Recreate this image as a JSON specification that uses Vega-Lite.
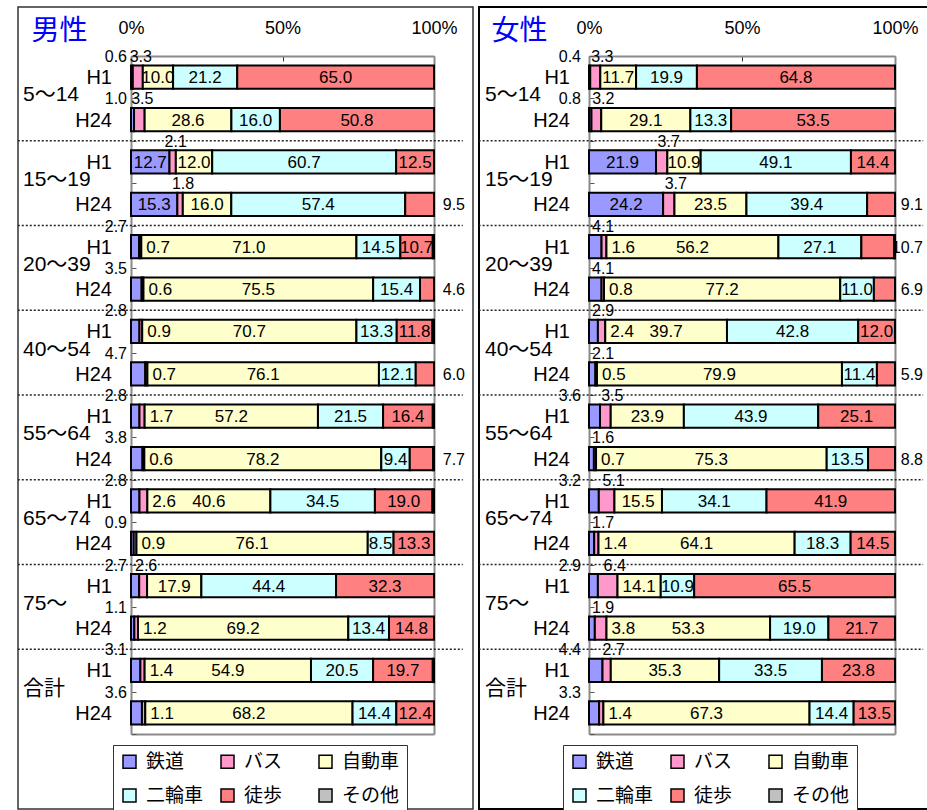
{
  "$schema": "https://vega.github.io/schema/vega-lite/v6.json",
  "background": "white",
  "padding": {"left": 17, "top": 6, "right": 0, "bottom": 0},
  "spacing": 4,
  "config": {
    "font": "Liberation Sans",
    "axis": {"grid": false},
    "text": {"font": "Liberation Sans", "color": "black"}
  },
  "datasets": {
    "male": [
      {"age": "5～14", "year": "H1", "鉄道": 0.6, "バス": 3.3, "自動車": 10.0, "二輪車": 21.2, "徒歩": 65.0, "その他": 0},
      {"age": "5～14", "year": "H24", "鉄道": 1.0, "バス": 3.5, "自動車": 28.6, "二輪車": 16.0, "徒歩": 50.8, "その他": 0},
      {"age": "15～19", "year": "H1", "鉄道": 12.7, "バス": 2.1, "自動車": 12.0, "二輪車": 60.7, "徒歩": 12.5, "その他": 0},
      {"age": "15～19", "year": "H24", "鉄道": 15.3, "バス": 1.8, "自動車": 16.0, "二輪車": 57.4, "徒歩": 9.5, "その他": 0},
      {"age": "20～39", "year": "H1", "鉄道": 2.7, "バス": 0.7, "自動車": 71.0, "二輪車": 14.5, "徒歩": 10.7, "その他": 0.4},
      {"age": "20～39", "year": "H24", "鉄道": 3.5, "バス": 0.6, "自動車": 75.5, "二輪車": 15.4, "徒歩": 4.6, "その他": 0},
      {"age": "40～54", "year": "H1", "鉄道": 2.8, "バス": 0.9, "自動車": 70.7, "二輪車": 13.3, "徒歩": 11.8, "その他": 0.5},
      {"age": "40～54", "year": "H24", "鉄道": 4.7, "バス": 0.7, "自動車": 76.1, "二輪車": 12.1, "徒歩": 6.0, "その他": 0},
      {"age": "55～64", "year": "H1", "鉄道": 2.8, "バス": 1.7, "自動車": 57.2, "二輪車": 21.5, "徒歩": 16.4, "その他": 0.4},
      {"age": "55～64", "year": "H24", "鉄道": 3.8, "バス": 0.6, "自動車": 78.2, "二輪車": 9.4, "徒歩": 7.7, "その他": 0.3},
      {"age": "65～74", "year": "H1", "鉄道": 2.8, "バス": 2.6, "自動車": 40.6, "二輪車": 34.5, "徒歩": 19.0, "その他": 0.5},
      {"age": "65～74", "year": "H24", "鉄道": 0.9, "バス": 0.9, "自動車": 76.1, "二輪車": 8.5, "徒歩": 13.3, "その他": 0},
      {"age": "75～", "year": "H1", "鉄道": 2.7, "バス": 2.6, "自動車": 17.9, "二輪車": 44.4, "徒歩": 32.3, "その他": 0},
      {"age": "75～", "year": "H24", "鉄道": 1.1, "バス": 1.2, "自動車": 69.2, "二輪車": 13.4, "徒歩": 14.8, "その他": 0},
      {"age": "合計", "year": "H1", "鉄道": 3.1, "バス": 1.4, "自動車": 54.9, "二輪車": 20.5, "徒歩": 19.7, "その他": 0.4},
      {"age": "合計", "year": "H24", "鉄道": 3.6, "バス": 1.1, "自動車": 68.2, "二輪車": 14.4, "徒歩": 12.4, "その他": 0}
    ],
    "female": [
      {"age": "5～14", "year": "H1", "鉄道": 0.4, "バス": 3.3, "自動車": 11.7, "二輪車": 19.9, "徒歩": 64.8, "その他": 0},
      {"age": "5～14", "year": "H24", "鉄道": 0.8, "バス": 3.2, "自動車": 29.1, "二輪車": 13.3, "徒歩": 53.5, "その他": 0},
      {"age": "15～19", "year": "H1", "鉄道": 21.9, "バス": 3.7, "自動車": 10.9, "二輪車": 49.1, "徒歩": 14.4, "その他": 0},
      {"age": "15～19", "year": "H24", "鉄道": 24.2, "バス": 3.7, "自動車": 23.5, "二輪車": 39.4, "徒歩": 9.1, "その他": 0},
      {"age": "20～39", "year": "H1", "鉄道": 4.1, "バス": 1.6, "自動車": 56.2, "二輪車": 27.1, "徒歩": 10.7, "その他": 0.3},
      {"age": "20～39", "year": "H24", "鉄道": 4.1, "バス": 0.8, "自動車": 77.2, "二輪車": 11.0, "徒歩": 6.9, "その他": 0},
      {"age": "40～54", "year": "H1", "鉄道": 2.9, "バス": 2.4, "自動車": 39.7, "二輪車": 42.8, "徒歩": 12.0, "その他": 0},
      {"age": "40～54", "year": "H24", "鉄道": 2.1, "バス": 0.5, "自動車": 79.9, "二輪車": 11.4, "徒歩": 5.9, "その他": 0},
      {"age": "55～64", "year": "H1", "鉄道": 3.6, "バス": 3.5, "自動車": 23.9, "二輪車": 43.9, "徒歩": 25.1, "その他": 0},
      {"age": "55～64", "year": "H24", "鉄道": 1.6, "バス": 0.7, "自動車": 75.3, "二輪車": 13.5, "徒歩": 8.8, "その他": 0},
      {"age": "65～74", "year": "H1", "鉄道": 3.2, "バス": 5.1, "自動車": 15.5, "二輪車": 34.1, "徒歩": 41.9, "その他": 0},
      {"age": "65～74", "year": "H24", "鉄道": 1.7, "バス": 1.4, "自動車": 64.1, "二輪車": 18.3, "徒歩": 14.5, "その他": 0},
      {"age": "75～", "year": "H1", "鉄道": 2.9, "バス": 6.4, "自動車": 14.1, "二輪車": 10.9, "徒歩": 65.5, "その他": 0},
      {"age": "75～", "year": "H24", "鉄道": 1.9, "バス": 3.8, "自動車": 53.3, "二輪車": 19.0, "徒歩": 21.7, "その他": 0},
      {"age": "合計", "year": "H1", "鉄道": 4.4, "バス": 2.7, "自動車": 35.3, "二輪車": 33.5, "徒歩": 23.8, "その他": 0},
      {"age": "合計", "year": "H24", "鉄道": 3.3, "バス": 1.4, "自動車": 67.3, "二輪車": 14.4, "徒歩": 13.5, "その他": 0}
    ]
  },
  "hconcat": [
    {
      "width": 455,
      "height": 802,
      "view": {"stroke": "#333333", "strokeWidth": 1.5},
      "data": {"name": "male"},
      "transform": [
        {"calculate": "datum.age + ' ' + datum.year", "as": "row"},
        {"calculate": "datum.age == '5～14' || datum.age == '15～19' || (datum.year == 'H1' && datum['バス'] >= 2.5 && datum['自動車'] < 40)", "as": "busUp"},
        {"calculate": "false", "as": "railIn"},
        {"fold": ["鉄道", "バス", "自動車", "二輪車", "徒歩", "その他"], "as": ["mode", "v"]},
        {"filter": "datum.v > 0"},
        {"calculate": "indexof(['鉄道', 'バス', '自動車', '二輪車', '徒歩', 'その他'], datum.mode)", "as": "ord"},
        {"stack": "v", "groupby": ["row"], "sort": [{"field": "ord", "order": "ascending"}], "offset": "normalize", "as": ["x0", "x1"]},
        {"calculate": "(datum.x0 + datum.x1) / 2", "as": "xm"}
      ],
      "resolve": {"axis": {"x": "independent", "y": "independent"}},
      "layer": [
        {
          "transform": [{"filter": "datum.mode == '鉄道' && datum.year == 'H24' && datum.age != '合計'"}],
          "mark": {"type": "rule", "strokeDash": [2, 2], "strokeWidth": 1.5, "color": "#222222", "clip": true},
          "encoding": {
            "x": {"datum": -0.4, "scale": {"domain": [0, 1], "range": [113, 416], "nice": false, "zero": false}, "axis": null},
            "x2": {"datum": 1.095},
            "y": {"field": "row", "type": "nominal", "bandPosition": 1, "scale": {"type": "band", "domain": ["5～14 H1", "5～14 H24", "15～19 H1", "15～19 H24", "20～39 H1", "20～39 H24", "40～54 H1", "40～54 H24", "55～64 H1", "55～64 H24", "65～74 H1", "65～74 H24", "75～ H1", "75～ H24", "合計 H1", "合計 H24"], "range": [49, 727], "paddingInner": 0, "paddingOuter": 0}, "axis": null}
          }
        },
        {
          "transform": [{"filter": "datum.mode == '鉄道' && datum.v < 10 && !datum.railIn"}],
          "mark": {"type": "text", "align": "right", "baseline": "middle", "dx": -4, "dy": 1, "fontSize": 16},
          "encoding": {
            "x": {"datum": 0, "axis": null},
            "y": {"field": "row", "type": "nominal", "bandPosition": 0, "axis": null},
            "text": {"field": "v", "type": "quantitative", "format": ".1f"}
          }
        },
        {
          "transform": [{"filter": "datum.mode == 'バス' && datum.busUp"}],
          "mark": {"type": "text", "align": "center", "baseline": "middle", "dx": 3, "dy": 1, "fontSize": 16},
          "encoding": {
            "x": {"field": "xm", "type": "quantitative", "axis": null},
            "y": {"field": "row", "type": "nominal", "bandPosition": 0, "axis": null},
            "text": {"field": "v", "type": "quantitative", "format": ".1f"}
          }
        },
        {
          "mark": {"type": "bar", "height": {"band": 0.55}, "stroke": "black", "strokeWidth": 2},
          "encoding": {
            "x": {"field": "x0", "type": "quantitative", "axis": {"orient": "top", "offset": -49, "values": [0, 0.5, 1], "format": ".0%", "title": null, "domainColor": "#8a8a8a", "domainWidth": 2, "tickColor": "#333333", "tickSize": -5, "labelFontSize": 18, "labelColor": "black", "labelPadding": 24, "labelFlush": false, "labelFont": "Liberation Sans"}},
            "x2": {"field": "x1"},
            "y": {"field": "row", "type": "nominal", "axis": {"orient": "left", "offset": -113, "labels": false, "domainColor": "#8a8a8a", "domainWidth": 2, "tickBand": "extent", "tickSize": -5, "tickColor": "#555555", "title": "男性", "titleAngle": 0, "titleX": -100, "titleY": 24, "titleAlign": "left", "titleBaseline": "middle", "titleColor": "#0000FF", "titleFont": "Noto Sans CJK JP", "titleFontSize": 28, "titleFontWeight": "normal"}},
            "color": {
              "field": "mode", "type": "nominal",
              "scale": {"domain": ["鉄道", "バス", "自動車", "二輪車", "徒歩", "その他"], "range": ["#9999FF", "#FF99CC", "#FFFFCC", "#CCFFFF", "#FF8080", "#C0C0C0"]},
              "legend": {"orient": "none", "legendX": 95, "legendY": 738, "direction": "horizontal", "columns": 3, "title": null, "symbolType": "square", "symbolSize": 169, "symbolStrokeColor": "black", "symbolStrokeWidth": 1.5, "labelFontSize": 19, "labelFont": "Noto Sans CJK JP", "labelColor": "black", "labelOffset": 7, "columnPadding": 14, "rowPadding": 14, "gridAlign": "all", "padding": 7, "strokeColor": "#333333", "fillColor": "white"}
            }
          }
        },
        {
          "transform": [{"filter": "(datum.mode == '鉄道' && datum.v >= 10) || datum.mode == '自動車' || datum.mode == '二輪車' || (datum.mode == '徒歩' && datum.v >= 10)"}],
          "mark": {"type": "text", "align": "center", "baseline": "middle", "dy": 1, "fontSize": 17},
          "encoding": {
            "x": {"field": "xm", "type": "quantitative", "axis": {"orient": "bottom", "offset": -75, "labels": false, "ticks": false, "title": null, "domainColor": "#8a8a8a", "domainWidth": 2}},
            "y": {"field": "row", "type": "nominal", "axis": {"orient": "right", "offset": -39, "labels": false, "ticks": false, "title": null, "domainColor": "#8a8a8a", "domainWidth": 2}},
            "text": {"field": "v", "type": "quantitative", "format": ".1f"}
          }
        },
        {
          "transform": [{"filter": "datum.mode == 'バス' && !datum.busUp"}],
          "mark": {"type": "text", "align": "left", "baseline": "middle", "dx": 5, "dy": 1, "fontSize": 17},
          "encoding": {
            "x": {"field": "x1", "type": "quantitative", "axis": null},
            "y": {"field": "row", "type": "nominal", "axis": null},
            "text": {"field": "v", "type": "quantitative", "format": ".1f"}
          }
        },
        {
          "transform": [{"filter": "datum.mode == '徒歩' && datum.v < 10"}],
          "mark": {"type": "text", "align": "right", "baseline": "middle", "dx": 31, "dy": 1, "fontSize": 16},
          "encoding": {
            "x": {"datum": 1, "axis": null},
            "y": {"field": "row", "type": "nominal", "axis": null},
            "text": {"field": "v", "type": "quantitative", "format": ".1f"}
          }
        },
        {
          "transform": [{"filter": "datum.mode == '鉄道'"}],
          "mark": {"type": "text", "align": "right", "baseline": "middle", "dx": -19, "dy": 1, "fontSize": 20},
          "encoding": {
            "x": {"datum": 0, "axis": null},
            "y": {"field": "row", "type": "nominal", "axis": null},
            "text": {"field": "year", "type": "nominal"}
          }
        },
        {
          "transform": [{"filter": "datum.mode == '鉄道' && datum.year == 'H24'"}],
          "mark": {"type": "text", "align": "left", "baseline": "middle", "dx": -108, "dy": -3, "fontSize": 21, "font": "Liberation Sans, Noto Sans CJK JP"},
          "encoding": {
            "x": {"datum": 0, "axis": null},
            "y": {"field": "row", "type": "nominal", "bandPosition": 0, "axis": null},
            "text": {"field": "age", "type": "nominal"}
          }
        }
      ]
    },
    {
      "width": 450,
      "height": 802,
      "view": {"stroke": "black", "strokeWidth": 2},
      "data": {"name": "female"},
      "transform": [
        {"calculate": "datum.age + ' ' + datum.year", "as": "row"},
        {"calculate": "datum.age == '5～14' || datum.age == '15～19' || (datum.year == 'H1' && datum['バス'] >= 2.5 && datum['自動車'] < 40)", "as": "busUp"},
        {"calculate": "!datum.busUp && datum.age != '合計'", "as": "railIn"},
        {"fold": ["鉄道", "バス", "自動車", "二輪車", "徒歩", "その他"], "as": ["mode", "v"]},
        {"filter": "datum.v > 0"},
        {"calculate": "indexof(['鉄道', 'バス', '自動車', '二輪車', '徒歩', 'その他'], datum.mode)", "as": "ord"},
        {"stack": "v", "groupby": ["row"], "sort": [{"field": "ord", "order": "ascending"}], "offset": "normalize", "as": ["x0", "x1"]},
        {"calculate": "(datum.x0 + datum.x1) / 2", "as": "xm"}
      ],
      "resolve": {"axis": {"x": "independent", "y": "independent"}},
      "layer": [
        {
          "transform": [{"filter": "datum.mode == '鉄道' && datum.year == 'H24' && datum.age != '合計'"}],
          "mark": {"type": "rule", "strokeDash": [2, 2], "strokeWidth": 1.5, "color": "#222222", "clip": true},
          "encoding": {
            "x": {"datum": -0.4, "scale": {"domain": [0, 1], "range": [110, 416], "nice": false, "zero": false}, "axis": null},
            "x2": {"datum": 1.092},
            "y": {"field": "row", "type": "nominal", "bandPosition": 1, "scale": {"type": "band", "domain": ["5～14 H1", "5～14 H24", "15～19 H1", "15～19 H24", "20～39 H1", "20～39 H24", "40～54 H1", "40～54 H24", "55～64 H1", "55～64 H24", "65～74 H1", "65～74 H24", "75～ H1", "75～ H24", "合計 H1", "合計 H24"], "range": [49, 727], "paddingInner": 0, "paddingOuter": 0}, "axis": null}
          }
        },
        {
          "transform": [{"filter": "datum.mode == '鉄道' && datum.v < 10 && !datum.railIn"}],
          "mark": {"type": "text", "align": "right", "baseline": "middle", "dx": -8, "dy": 1, "fontSize": 16},
          "encoding": {
            "x": {"datum": 0, "axis": null},
            "y": {"field": "row", "type": "nominal", "bandPosition": 0, "axis": null},
            "text": {"field": "v", "type": "quantitative", "format": ".1f"}
          }
        },
        {
          "transform": [{"filter": "datum.mode == '鉄道' && datum.v < 10 && datum.railIn"}],
          "mark": {"type": "text", "align": "left", "baseline": "middle", "dx": 3, "dy": 1, "fontSize": 16},
          "encoding": {
            "x": {"datum": 0, "axis": null},
            "y": {"field": "row", "type": "nominal", "bandPosition": 0, "axis": null},
            "text": {"field": "v", "type": "quantitative", "format": ".1f"}
          }
        },
        {
          "transform": [{"filter": "datum.mode == 'バス' && datum.busUp"}],
          "mark": {"type": "text", "align": "center", "baseline": "middle", "dx": 7, "dy": 1, "fontSize": 16},
          "encoding": {
            "x": {"field": "xm", "type": "quantitative", "axis": null},
            "y": {"field": "row", "type": "nominal", "bandPosition": 0, "axis": null},
            "text": {"field": "v", "type": "quantitative", "format": ".1f"}
          }
        },
        {
          "mark": {"type": "bar", "height": {"band": 0.55}, "stroke": "black", "strokeWidth": 2},
          "encoding": {
            "x": {"field": "x0", "type": "quantitative", "axis": {"orient": "top", "offset": -49, "values": [0, 0.5, 1], "format": ".0%", "title": null, "domainColor": "#8a8a8a", "domainWidth": 2, "tickColor": "#333333", "tickSize": -5, "labelFontSize": 18, "labelColor": "black", "labelPadding": 24, "labelFlush": false, "labelFont": "Liberation Sans"}},
            "x2": {"field": "x1"},
            "y": {"field": "row", "type": "nominal", "axis": {"orient": "left", "offset": -110, "labels": false, "domainColor": "#8a8a8a", "domainWidth": 2, "tickBand": "extent", "tickSize": -5, "tickColor": "#555555", "title": "女性", "titleAngle": 0, "titleX": -98, "titleY": 24, "titleAlign": "left", "titleBaseline": "middle", "titleColor": "#0000FF", "titleFont": "Noto Sans CJK JP", "titleFontSize": 28, "titleFontWeight": "normal"}},
            "color": {
              "field": "mode", "type": "nominal",
              "scale": {"domain": ["鉄道", "バス", "自動車", "二輪車", "徒歩", "その他"], "range": ["#9999FF", "#FF99CC", "#FFFFCC", "#CCFFFF", "#FF8080", "#C0C0C0"]},
              "legend": {"orient": "none", "legendX": 84, "legendY": 738, "direction": "horizontal", "columns": 3, "title": null, "symbolType": "square", "symbolSize": 169, "symbolStrokeColor": "black", "symbolStrokeWidth": 1.5, "labelFontSize": 19, "labelFont": "Noto Sans CJK JP", "labelColor": "black", "labelOffset": 7, "columnPadding": 14, "rowPadding": 14, "gridAlign": "all", "padding": 7, "strokeColor": "#333333", "fillColor": "white"}
            }
          }
        },
        {
          "transform": [{"filter": "(datum.mode == '鉄道' && datum.v >= 10) || datum.mode == '自動車' || datum.mode == '二輪車' || (datum.mode == '徒歩' && datum.v >= 11)"}],
          "mark": {"type": "text", "align": "center", "baseline": "middle", "dy": 1, "fontSize": 17},
          "encoding": {
            "x": {"field": "xm", "type": "quantitative", "axis": {"orient": "bottom", "offset": -75, "labels": false, "ticks": false, "title": null, "domainColor": "#8a8a8a", "domainWidth": 2}},
            "y": {"field": "row", "type": "nominal", "axis": {"orient": "right", "offset": -34, "labels": false, "ticks": false, "title": null, "domainColor": "#8a8a8a", "domainWidth": 2}},
            "text": {"field": "v", "type": "quantitative", "format": ".1f"}
          }
        },
        {
          "transform": [{"filter": "datum.mode == 'バス' && !datum.busUp"}],
          "mark": {"type": "text", "align": "left", "baseline": "middle", "dx": 5, "dy": 1, "fontSize": 17},
          "encoding": {
            "x": {"field": "x1", "type": "quantitative", "axis": null},
            "y": {"field": "row", "type": "nominal", "axis": null},
            "text": {"field": "v", "type": "quantitative", "format": ".1f"}
          }
        },
        {
          "transform": [{"filter": "datum.mode == '徒歩' && datum.v < 11"}],
          "mark": {"type": "text", "align": "right", "baseline": "middle", "dx": 28, "dy": 1, "fontSize": 16},
          "encoding": {
            "x": {"datum": 1, "axis": null},
            "y": {"field": "row", "type": "nominal", "axis": null},
            "text": {"field": "v", "type": "quantitative", "format": ".1f"}
          }
        },
        {
          "transform": [{"filter": "datum.mode == '鉄道'"}],
          "mark": {"type": "text", "align": "right", "baseline": "middle", "dx": -19, "dy": 1, "fontSize": 20},
          "encoding": {
            "x": {"datum": 0, "axis": null},
            "y": {"field": "row", "type": "nominal", "axis": null},
            "text": {"field": "year", "type": "nominal"}
          }
        },
        {
          "transform": [{"filter": "datum.mode == '鉄道' && datum.year == 'H24'"}],
          "mark": {"type": "text", "align": "left", "baseline": "middle", "dx": -104, "dy": -3, "fontSize": 21, "font": "Liberation Sans, Noto Sans CJK JP"},
          "encoding": {
            "x": {"datum": 0, "axis": null},
            "y": {"field": "row", "type": "nominal", "bandPosition": 0, "axis": null},
            "text": {"field": "age", "type": "nominal"}
          }
        }
      ]
    }
  ],
  "resolve": {"scale": {"color": "independent"}}
}
